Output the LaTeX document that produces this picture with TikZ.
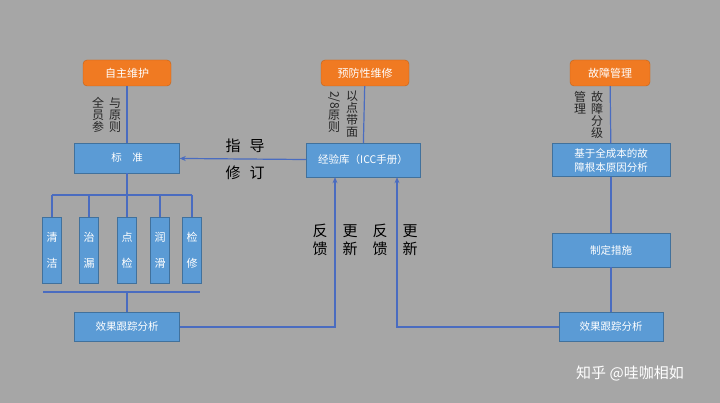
\documentclass[tikz,border=0pt]{standalone}
\usepackage{fontspec}
\setmainfont{Noto Sans CJK SC}
\usetikzlibrary{arrows.meta}
\definecolor{bg}{HTML}{A6A6A6}
\definecolor{bl}{HTML}{5B9BD5}
\definecolor{bld}{HTML}{41719C}
\definecolor{ln}{HTML}{4A6CC0}
\definecolor{og}{HTML}{F07A22}
\begin{document}
\begin{tikzpicture}[x=1pt,y=-1pt,
 org/.style={draw=og!80!black,fill=og,rounded corners=4pt,text=white,minimum width=88pt,minimum height=26pt,inner sep=0pt,font=\fontsize{11}{12}\selectfont},
 box/.style={draw=bld,fill=bl,text=white,inner sep=0pt,font=\fontsize{10.5}{14}\selectfont,align=center},
 sm/.style={box,minimum width=19pt,minimum height=66pt,font=\fontsize{11}{26}\selectfont},
 con/.style={ln,line width=1.2pt},
 arr/.style={con,-{Stealth[length=6pt,width=5pt]}},
 lab/.style={font=\fontsize{15}{18}\selectfont,text=black},
 vt/.style={font=\fontsize{12}{12}\selectfont,text=black!85,align=center,inner sep=0pt}]
\useasboundingbox (0,0) rectangle (720,403);
\fill[bg] (0,0) rectangle (720,403);
\node[org] (zz) at (127,73) {自主维护};
\node[org] (yf) at (365,73) {预防性维修};
\node[org,minimum width=80pt] (gz) at (610,73) {故障管理};
\node[box,minimum width=105pt,minimum height=30pt] (bz) at (127,158) {标\hspace{1em}准};
\node[box,minimum width=114pt,minimum height=34pt] (jy) at (363,160) {经验库（ICC手册）};
\node[box,minimum width=118pt,minimum height=33pt] (jf) at (611,160) {基于全成本的故\\障根本原因分析};
\node[box,minimum width=118pt,minimum height=34pt] (zd) at (611,250) {制定措施};
\node[box,minimum width=105pt,minimum height=29pt] (xl) at (127,327) {效果跟踪分析};
\node[box,minimum width=104pt,minimum height=29pt] (xr) at (611,327) {效果跟踪分析};
\node[sm,align=center] (s1) at (52,250) {清\\洁};
\node[sm,align=center] (s2) at (89,250) {治\\漏};
\node[sm,align=center] (s3) at (127,250) {点\\检};
\node[sm,align=center] (s4) at (160,250) {润\\滑};
\node[sm,align=center] (s5) at (192,250) {检\\修};
\coordinate (t1) at (52,195); \coordinate (t5) at (192,195);
\coordinate (b1) at (43,292); \coordinate (b5) at (200,292);
\coordinate (bm) at (127,292);
\coordinate (kl) at (335,327); \coordinate (kr) at (397,327);
\draw[con] (zz) -- (bz);
\draw[con] (yf) -- (jy);
\draw[con] (gz) -- (jf);
\draw[con] (jf) -- (zd);
\draw[con] (zd) -- (xr);
\draw[con] (bz) -- (s3);
\draw[con] (t1) -- (t5);
\foreach \s in {s1,s2,s4,s5}{\draw[con] (\s.north) -- (\s.north |- t1);}
\draw[con] (b1) -- (b5);
\draw[con] (bm) -- (xl);
\draw[arr] (jy) -- (bz);
\draw[arr] (xl.east) -- (kl) -- (kl |- jy.south);
\draw[arr] (xr.west) -- (kr) -- (kr |- jy.south);
\node[lab] (l1) at (245,146) {指\hspace{0.6em}导};
\node[lab] (l2) at (245,173) {修\hspace{0.6em}订};
\node[lab,align=center] (f1) at (320,240) {反\\馈};
\node[lab,align=center] (f2) at (350,240) {更\\新};
\node[lab,align=center] (f3) at (380,240) {反\\馈};
\node[lab,align=center] (f4) at (410,240) {更\\新};
\node[vt] (v1) at (98,115) {全\\员\\参};
\node[vt] (v2) at (115,115) {与\\原\\则};
\node[vt,anchor=north] (v3) at (334,91) {\rotatebox{-90}{2/8}\\原\\则};
\node[vt,anchor=north] (v4) at (352,91) {以\\点\\带\\面};
\node[vt,anchor=north] (v5) at (580,91) {管\\理};
\node[vt,anchor=north] (v6) at (597,91) {故\\障\\分\\级};
\node[text=white,font=\fontsize{15}{18}\selectfont] (wm) at (630,373) {知乎 @哇咖相如};
\end{tikzpicture}
\end{document}
